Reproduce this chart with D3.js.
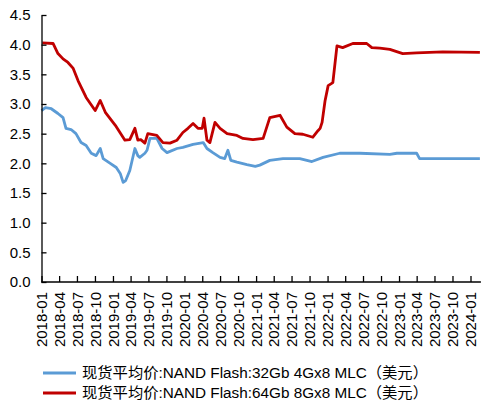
<!DOCTYPE html>
<html>
<head>
<meta charset="utf-8">
<script src="https://cdn.jsdelivr.net/npm/d3@7"></script>
<style>
  body { margin: 0; background: #fff; }
  svg { display: block; font-family: "Liberation Sans", Arial, "Noto Sans CJK SC", sans-serif; }
</style>
</head>
<body>
<div id="chart"></div>
<script>
// series names
const seriesNames = [
  "现货平均价:NAND Flash:32Gb 4Gx8 MLC（美元）",
  "现货平均价:NAND Flash:64Gb 8Gx8 MLC（美元）"
];
const seriesColors = ["#5b9bd5", "#c00000"];

// 32Gb 4Gx8 MLC
const dates32 = ["2018-01-01","2018-01-21","2018-02-20","2018-03-26","2018-04-21","2018-05-06","2018-06-01","2018-06-26","2018-07-22","2018-08-17","2018-09-12","2018-10-07","2018-10-28","2018-11-12","2018-12-18","2019-01-18","2019-02-07","2019-02-22","2019-03-07","2019-03-28","2019-04-23","2019-05-08","2019-05-18","2019-06-13","2019-06-24","2019-07-09","2019-08-13","2019-09-09","2019-10-04","2019-11-24","2019-12-24","2020-02-14","2020-04-06","2020-04-25","2020-05-25","2020-07-01","2020-07-25","2020-08-10","2020-08-25","2020-09-25","2020-11-15","2020-12-28","2021-01-20","2021-03-12","2021-05-18","2021-08-12","2021-10-13","2021-12-09","2022-03-04","2022-06-15","2022-11-15","2022-12-21","2023-04-01","2023-04-16","2024-02-18"];
const values32 = [2.89,2.94,2.92,2.84,2.77,2.59,2.57,2.50,2.35,2.30,2.17,2.13,2.25,2.08,2.00,1.93,1.83,1.68,1.71,1.88,2.25,2.13,2.10,2.17,2.22,2.42,2.42,2.25,2.18,2.25,2.27,2.32,2.35,2.25,2.18,2.10,2.08,2.22,2.05,2.02,1.98,1.95,1.97,2.05,2.08,2.08,2.03,2.10,2.17,2.17,2.15,2.17,2.17,2.08,2.08];

// 64Gb 8Gx8 MLC
const dates64 = ["2018-01-05","2018-03-01","2018-03-26","2018-04-21","2018-05-16","2018-06-12","2018-07-07","2018-08-17","2018-10-02","2018-10-28","2018-11-23","2019-01-13","2019-03-03","2019-03-28","2019-04-23","2019-05-08","2019-05-23","2019-06-13","2019-06-28","2019-08-13","2019-09-13","2019-10-19","2019-11-24","2019-12-24","2020-01-19","2020-02-14","2020-03-10","2020-04-01","2020-04-10","2020-04-25","2020-05-10","2020-06-05","2020-07-01","2020-08-06","2020-09-25","2020-10-26","2020-12-16","2021-02-06","2021-03-12","2021-05-03","2021-06-07","2021-07-18","2021-08-28","2021-10-18","2021-11-13","2021-11-24","2021-12-04","2021-12-19","2022-01-04","2022-01-28","2022-02-18","2022-03-19","2022-05-10","2022-07-20","2022-08-15","2022-09-25","2022-11-15","2023-01-20","2023-04-01","2023-08-12","2024-02-18"];
const values64 = [4.03,4.02,3.85,3.76,3.70,3.60,3.39,3.11,2.89,3.06,2.86,2.64,2.39,2.40,2.59,2.39,2.40,2.34,2.50,2.47,2.35,2.34,2.39,2.52,2.59,2.67,2.59,2.59,2.76,2.39,2.35,2.69,2.59,2.50,2.47,2.42,2.40,2.42,2.77,2.81,2.61,2.50,2.49,2.44,2.55,2.59,2.69,3.05,3.31,3.36,3.98,3.95,4.02,4.02,3.95,3.94,3.92,3.85,3.86,3.88,3.87];

const yTicks = [0, 0.5, 1.0, 1.5, 2.0, 2.5, 3.0, 3.5, 4.0, 4.5];
const xTickLabels = ["2018-01","2018-04","2018-07","2018-10","2019-01","2019-04","2019-07","2019-10","2020-01","2020-04","2020-07","2020-10","2021-01","2021-04","2021-07","2021-10","2022-01","2022-04","2022-07","2022-10","2023-01","2023-04","2023-07","2023-10","2024-01"];

const width = 482, height = 403;
const parse = d3.timeParse("%Y-%m-%d");
const parseMonth = d3.timeParse("%Y-%m");

const series = [
  dates32.map((d, i) => ({date: parse(d), value: values32[i]})),
  dates64.map((d, i) => ({date: parse(d), value: values64[i]}))
];

const svg = d3.select("#chart").append("svg")
  .attr("width", width)
  .attr("height", height);

const x = d3.scaleTime()
  .domain([parseMonth("2018-01"), parseMonth("2024-01")])
  .range([41.5, 470.5]);

const y = d3.scaleLinear()
  .domain([0, 4.5])
  .range([282, 15]);

// lines
const line = d3.line()
  .x(d => x(d.date))
  .y(d => y(d.value));

svg.selectAll(".series")
  .data(series)
  .enter().append("path")
  .attr("class", "series")
  .attr("fill", "none")
  .attr("stroke", (d, i) => seriesColors[i])
  .attr("stroke-width", 2.8)
  .attr("stroke-linejoin", "round")
  .attr("d", line);

// y axis
const yAxis = svg.append("g")
  .attr("transform", "translate(41.5,0)")
  .call(d3.axisLeft(y)
    .tickValues(yTicks)
    .tickSizeInner(-5)
    .tickSizeOuter(0)
    .tickPadding(11)
    .tickFormat(d3.format(".1f")));
yAxis.select(".domain").attr("stroke", "#000").attr("stroke-width", 1.3);
yAxis.selectAll("line").attr("stroke", "#000").attr("stroke-width", 1.3);
yAxis.selectAll("text").attr("font-size", 15).attr("fill", "#000")
  .attr("font-family", "'Liberation Sans', Arial, sans-serif");

// x axis
const lastDate = series[1][series[1].length - 1].date;
const xAxis = svg.append("g")
  .attr("transform", "translate(0,282)")
  .call(d3.axisBottom(x)
    .tickValues(xTickLabels.map(parseMonth))
    .tickSizeInner(-6)
    .tickSizeOuter(0)
    .tickFormat(d3.timeFormat("%Y-%m")));
xAxis.select(".domain")
  .attr("d", `M${x.range()[0]},0H${x(lastDate) + 1}`)
  .attr("stroke", "#000").attr("stroke-width", 1.3);
xAxis.selectAll("line").attr("stroke", "#000").attr("stroke-width", 1.3);
xAxis.selectAll("text")
  .attr("font-size", 15)
  .attr("fill", "#000")
  .attr("font-family", "'Liberation Sans', Arial, sans-serif")
  .attr("transform", "rotate(-90)")
  .attr("text-anchor", "end")
  .attr("x", -10)
  .attr("y", 0)
  .attr("dy", "0.35em");

// legend
const legend = svg.append("g")
  .attr("transform", "translate(43,0)");
const items = legend.selectAll("g")
  .data(seriesNames)
  .enter().append("g")
  .attr("transform", (d, i) => `translate(0,${373 + i * 20})`);
items.append("line")
  .attr("x1", 0).attr("x2", 33)
  .attr("stroke", (d, i) => seriesColors[i])
  .attr("stroke-width", 2.8);
items.append("text")
  .attr("x", 39)
  .attr("dy", "0.35em")
  .attr("font-size", 15.3)
  .attr("fill", "#000")
  .text(d => d);
</script>
</body>
</html>
